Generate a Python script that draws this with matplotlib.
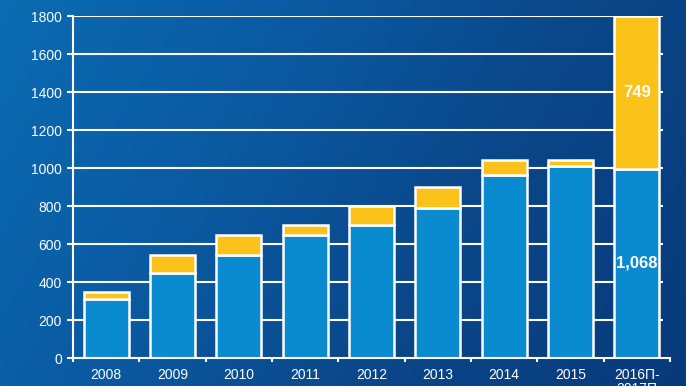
import numpy as np
import matplotlib
matplotlib.use('Agg')
import matplotlib.pyplot as plt
from matplotlib.colors import LinearSegmentedColormap

plt.rcParams['font.family'] = ['Liberation Sans', 'DejaVu Sans']

years = ['2008', '2009', '2010', '2011', '2012', '2013', '2014', '2015', '2016П-\n2017П']
blue = [310, 450, 540, 645, 700, 790, 965, 1010, 995]
yellow = [40, 90, 110, 55, 100, 110, 75, 30, 805]
blue_label = '1,068'
yellow_label = '749'

fig = plt.figure(figsize=(6.86, 3.86), dpi=100)

# background gradient
bg = fig.add_axes([0, 0, 1, 1])
xx, yy = np.meshgrid(np.linspace(0, 1, 300), np.linspace(0, 1, 200))
grad = 0.75 * xx + 0.25 * yy
cmap = LinearSegmentedColormap.from_list('bg', ['#0b6cb2', '#0a5aa2', '#0a4688', '#083a7a'])
bg.imshow(grad, cmap=cmap, aspect='auto', extent=[0, 1, 0, 1])
bg.axis('off')

ax = fig.add_axes([0.1064, 0.0725, 0.8703, 0.886])
ax.patch.set_alpha(0)
x = np.arange(len(years))

ax.hlines(np.arange(200, 1801, 200), -0.5, 8.4, color='white', lw=1.5, zorder=1)
ax.bar(x, blue, width=0.68, color='#0a8bd0', edgecolor='white', lw=1.8, zorder=2)
ax.bar(x, yellow, width=0.68, bottom=blue, color='#fbc21a', edgecolor='white', lw=1.8, zorder=2)

ax.text(x[-1], blue[-1] / 2, blue_label, ha='center', va='center', color='white',
        fontsize=12, fontweight='bold', zorder=3)
ax.text(x[-1], blue[-1] + yellow[-1] / 2, yellow_label, ha='center', va='center', color='white',
        fontsize=12, fontweight='bold', zorder=3)

ax.set_xlim(-0.5, 8.5)
ax.set_ylim(0, 1800)
ax.set_yticks(np.arange(0, 1801, 200))
ax.set_xticks(x)
ax.set_xticklabels(years)
ax.set_xticks(np.arange(-0.5, 8.6, 1), minor=True)
for lab in ax.get_xticklabels():
    lab.set_linespacing(1.0)

for s in ['top', 'right']:
    ax.spines[s].set_visible(False)
for s in ['left', 'bottom']:
    ax.spines[s].set_color('white')
    ax.spines[s].set_linewidth(1.5)

ax.tick_params(axis='y', colors='white', length=4, width=1.5, pad=4, labelsize=10)
ax.tick_params(axis='x', which='major', length=0, pad=7, colors='white', labelsize=10)
ax.tick_params(axis='x', which='minor', length=3, width=1.5, color='white')

fig.savefig('out.png', dpi=100)
